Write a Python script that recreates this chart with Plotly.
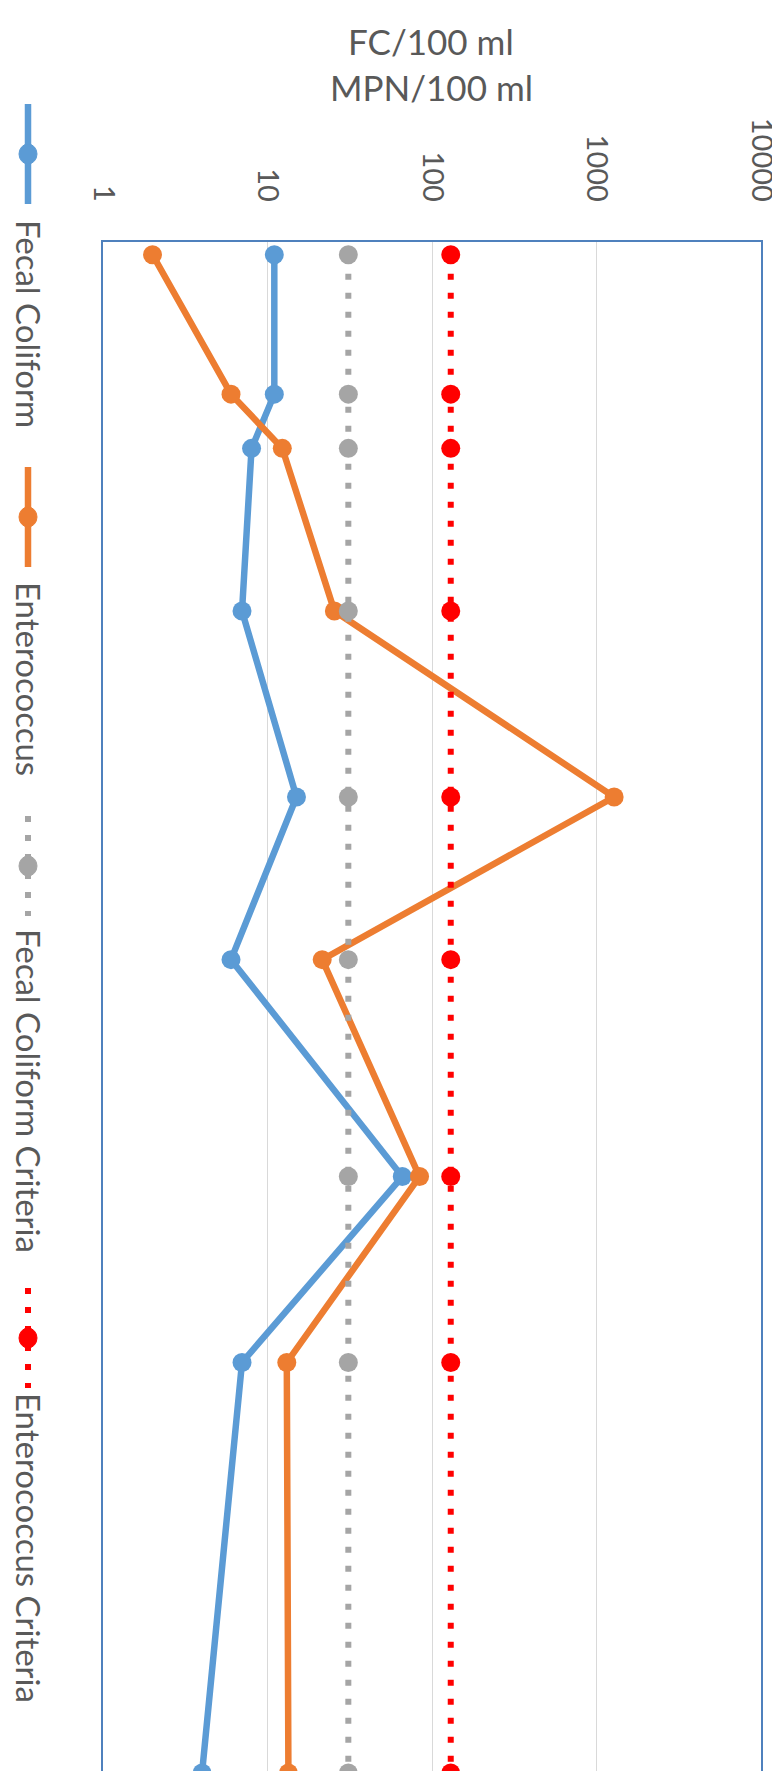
import plotly.graph_objects as go

# sampling day (category axis, runs downward) and counts per 100 ml
sample_day = [0, 18, 25, 46, 70, 91, 119, 143, 196]
fecal_coliform = [11, 11, 8, 7, 15, 6, 66, 7, 4]
enterococcus = [2, 6, 12.3, 25.5, 1280, 21.5, 84, 13.1, 13.4]
fc_criteria = [31, 31, 31, 31, 31, 31, 31, 31, 31]
ent_criteria = [130, 130, 130, 130, 130, 130, 130, 130, 130]
tick_vals = [1, 10, 100, 1000, 10000]
tick_text = ["1", "10", "100", "1000", "10000"]
series_names = ["Fecal Coliform", "Enterococcus", "Fecal Coliform Criteria", "Enterococcus Criteria"]
title_lines = ["FC/100 ml", "MPN/100 ml"]

BLUE = "#5B9BD5"
ORANGE = "#ED7D31"
GRAY = "#A5A5A5"
RED = "#FF0000"
FRAME = "#4F81BD"
TXT = "#595959"
FONT = "Lato, 'Open Sans', sans-serif"
DOTS = "6px,13px"

W, H = 780, 1771
ML, MR, MT, MB = 95, 27, 234, 0


def px(x):
    return (x - ML) / (W - ML - MR)


def py(y):
    return 1 - (y - MT) / (H - MT - MB)


fig = go.Figure()
styles = [
    (fecal_coliform, BLUE, "solid"),
    (enterococcus, ORANGE, "solid"),
    (fc_criteria, GRAY, DOTS),
    (ent_criteria, RED, DOTS),
]
for name, (vals, col, dash) in zip(series_names, styles):
    fig.add_trace(go.Scatter(
        x=vals, y=sample_day, name=name, mode="lines+markers",
        line=dict(color=col, width=6.5 if dash == "solid" else 6, dash=dash),
        marker=dict(color=col, size=19),
        showlegend=False,
    ))

# hand-built rotated legend on the left
legend_pos = [(146, 210), (509, 572), (858, 919), (1330, 1383)]
shapes = []
annotations = []
for name, (vals, col, dash), (cy, ty) in zip(series_names, styles, legend_pos):
    shapes.append(dict(type="line", xref="paper", yref="paper",
                       x0=px(20), x1=px(20), y0=py(cy - 50), y1=py(cy + 50),
                       line=dict(color=col, width=6.5 if dash == "solid" else 6, dash=dash)))
    shapes.append(dict(type="circle", xref="paper", yref="paper",
                       x0=px(11), x1=px(29), y0=py(cy - 10), y1=py(cy + 10),
                       fillcolor=col, line=dict(color=col, width=1)))
    annotations.append(dict(text=name, textangle=90, xref="paper", yref="paper",
                            x=px(21), y=py(ty), xanchor="center", yanchor="top",
                            showarrow=False, font=dict(size=33, color=TXT, family=FONT)))

for line, ty in zip(title_lines, [33, 79]):
    annotations.append(dict(text=line, xref="paper", yref="paper",
                            x=px(423), y=py(ty), xanchor="center", yanchor="middle",
                            showarrow=False, font=dict(size=35, color=TXT, family=FONT)))

fig.update_layout(
    width=W, height=H,
    margin=dict(l=ML, r=MR, t=MT, b=MB),
    paper_bgcolor="white", plot_bgcolor="white",
    font=dict(family=FONT, color=TXT),
    shapes=shapes,
    annotations=annotations,
    showlegend=False,
)
fig.update_xaxes(
    type="log", range=[0, 4], side="top",
    tickvals=tick_vals, ticktext=tick_text, tickangle=90,
    tickfont=dict(size=29, color=TXT, family=FONT), ticklabelstandoff=28,
    showgrid=True, gridcolor="#D9D9D9", gridwidth=1,
    showline=True, linecolor=FRAME, linewidth=2, mirror=False,
    zeroline=False, ticks="",
)
fig.update_yaxes(
    range=[196.77, -1.64], showticklabels=False, showgrid=False, zeroline=False,
    showline=True, linecolor=FRAME, linewidth=2, mirror=True, ticks="",
)

fig.write_html("out.html")
